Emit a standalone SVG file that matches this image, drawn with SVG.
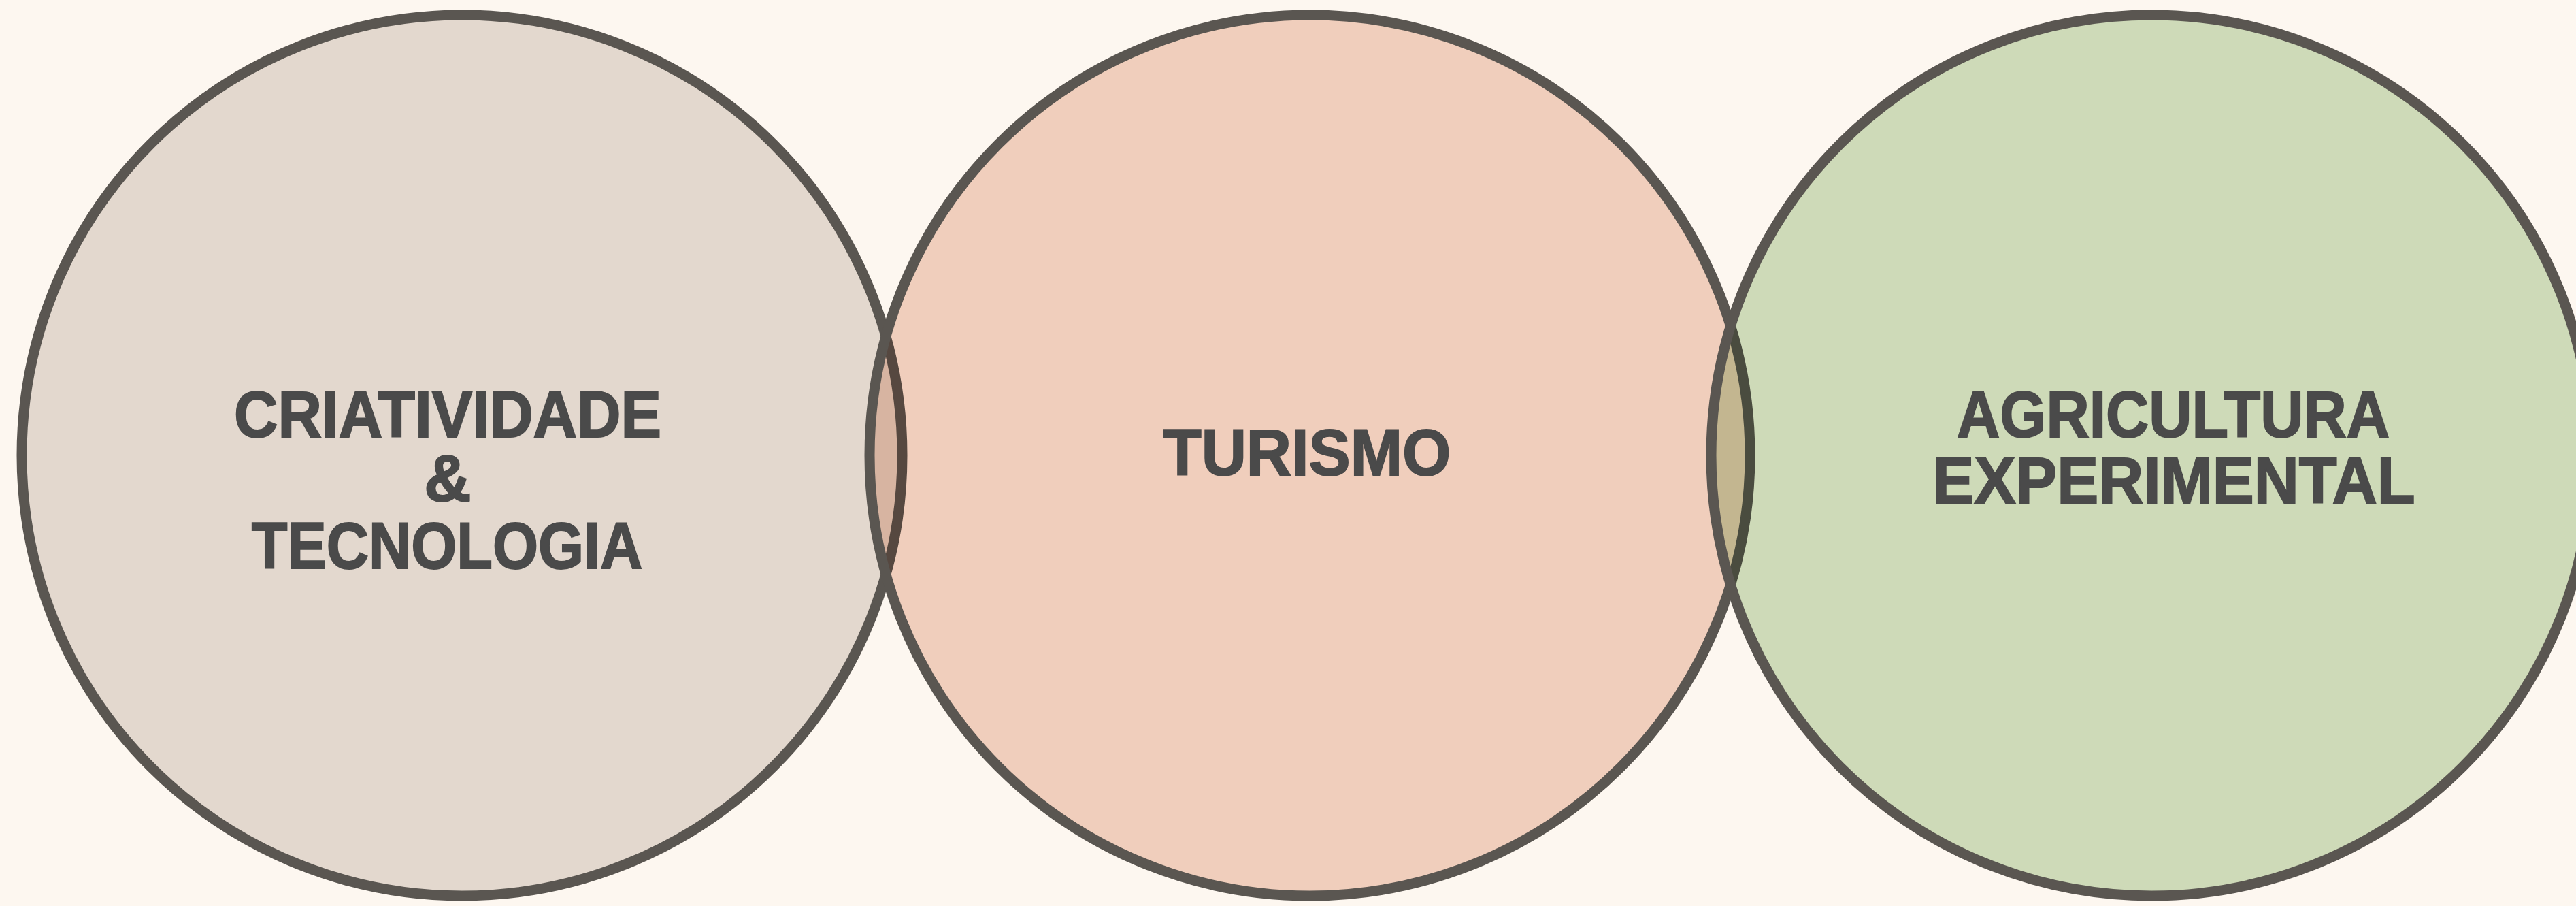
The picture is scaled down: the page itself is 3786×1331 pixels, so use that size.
<svg xmlns="http://www.w3.org/2000/svg" width="3786" height="1331" viewBox="0 0 3786 1331">
  <style>
    .fill { mix-blend-mode: multiply; }
    .ring { fill: none; stroke: #5a5651; stroke-width: 15; }
    .lbl { font-family: "Liberation Sans", Arial, sans-serif; font-weight: bold; font-size: 96px; fill: #4a4a4a; stroke: #4a4a4a; stroke-width: 2; text-anchor: middle; }
  </style>
  <rect x="0" y="0" width="3786" height="1331" fill="#fdf7f0"/>
  <g id="connectors"></g>
  <g id="node-criatividade">
    <circle class="fill" cx="679" cy="669" r="647" fill="#e5dfdb"/>
    <circle class="ring" cx="679" cy="669" r="647"/>
    <text class="lbl" transform="translate(658,642) scale(0.93,1)">CRIATIVIDADE</text>
    <text class="lbl" transform="translate(658,736)" font-size="80">&amp;</text>
    <text class="lbl" transform="translate(657,835) scale(0.898,1)">TECNOLOGIA</text>
  </g>
  <g id="node-turismo">
    <circle class="fill" cx="1925" cy="669" r="647" fill="#f2d5c8"/>
    <circle class="ring" cx="1925" cy="669" r="647"/>
    <text class="lbl" transform="translate(1921,698) scale(0.955,1)">TURISMO</text>
  </g>
  <g id="node-agricultura">
    <circle class="fill" cx="3162" cy="669" r="647" fill="#d0e1c4"/>
    <circle class="ring" cx="3162" cy="669" r="647"/>
    <text class="lbl" transform="translate(3194,642) scale(0.913,1)">AGRICULTURA</text>
    <text class="lbl" transform="translate(3195,739) scale(0.952,1)">EXPERIMENTAL</text>
  </g>
</svg>
